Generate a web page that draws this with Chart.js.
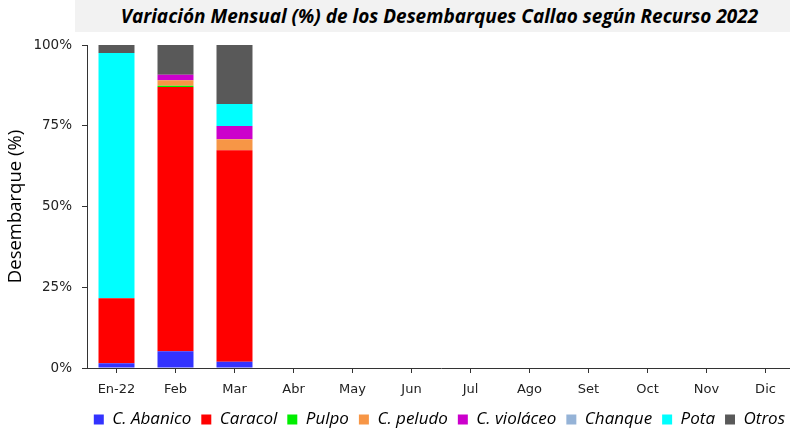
<!DOCTYPE html>
<html>
<head>
<meta charset="utf-8">
<script src="https://cdn.jsdelivr.net/npm/chart.js@4"></script>
<style>
  html, body { margin: 0; padding: 0; background: #fff; overflow: hidden; }
  #wrap { position: relative; width: 795px; height: 433px; }
  #title {
    position: absolute; left: 75px; top: 0; width: 715px; height: 32px;
    background: #f2f2f2; text-align: center; line-height: 33px; text-indent: 14px;
    font-family: "Open Sans", sans-serif; font-weight: bold; font-style: italic;
    font-size: 19px; color: #000; white-space: nowrap;
  }
  canvas { position: absolute; left: 0; top: 0; }
</style>
</head>
<body>
<div id="wrap">
  <canvas id="chart" width="795" height="433"></canvas>
  <div id="title">Variación Mensual (%) de los Desembarques Callao según Recurso 2022</div>
</div>
<script>
// categories
const months = ["En-22", "Feb", "Mar", "Abr", "May", "Jun", "Jul", "Ago", "Set", "Oct", "Nov", "Dic"];
const yTicks = [0, 25, 50, 75, 100];

// % share of each resource per month (only Jan-Mar reported)
const abanico  = [1.5, 5.2, 1.9, null, null, null, null, null, null, null, null, null];
const caracol  = [20.1, 81.8, 65.5, null, null, null, null, null, null, null, null, null];
const pulpo    = [0, 0.4, 0, null, null, null, null, null, null, null, null, null];
const peludo   = [0, 1.7, 3.4, null, null, null, null, null, null, null, null, null];
const violaceo = [0, 1.7, 4.1, null, null, null, null, null, null, null, null, null];
const chanque  = [0, 0, 0, null, null, null, null, null, null, null, null, null];
const pota     = [75.9, 0, 6.8, null, null, null, null, null, null, null, null, null];
const otros    = [2.5, 9.2, 18.3, null, null, null, null, null, null, null, null, null];

const series = [
  { label: "C. Abanico", data: abanico, color: "#3333ff" },
  { label: "Caracol", data: caracol, color: "#ff0000" },
  { label: "Pulpo", data: pulpo, color: "#00ee00" },
  { label: "C. peludo", data: peludo, color: "#f79646" },
  { label: "C. violáceo", data: violaceo, color: "#cc00cc" },
  { label: "Chanque", data: chanque, color: "#95b3d7" },
  { label: "Pota", data: pota, color: "#00ffff" },
  { label: "Otros", data: otros, color: "#595959" },
];

const axisColor = "#333";

new Chart(document.getElementById("chart"), {
  type: "bar",
  data: {
    labels: months,
    datasets: series.map((s) => ({
      label: s.label,
      data: s.data,
      backgroundColor: s.color,
      borderWidth: 0,
      barPercentage: 0.61,
      categoryPercentage: 1,
    })),
  },
  options: {
    responsive: false,
    animation: false,
    layout: { padding: { top: 45, left: 0, right: 0, bottom: -5 } },
    scales: {
      x: {
        stacked: true,
        offset: true,
        grid: {
          offset: false,
          drawOnChartArea: false,
          drawTicks: true,
          tickLength: 5,
          color: axisColor,
        },
        border: { color: axisColor, width: 1 },
        ticks: {
          color: "#222",
          padding: 9,
          maxRotation: 0,
          font: { family: "DejaVu Sans", size: 13 },
        },
        afterFit: (scale) => { scale.height = 33; },
      },
      y: {
        stacked: true,
        min: 0,
        max: 100,
        afterBuildTicks: (scale) => { scale.ticks = yTicks.map((v) => ({ value: v })); },
        grid: {
          drawOnChartArea: false,
          drawTicks: true,
          tickLength: 5,
          color: axisColor,
        },
        border: { color: axisColor, width: 1 },
        ticks: {
          color: "#222",
          padding: 10,
          callback: (v) => v + "%",
          font: { family: "DejaVu Sans", size: 13.5 },
        },
        title: {
          display: true,
          text: "Desembarque (%)",
          color: "#000",
          padding: { top: 5, bottom: 0 },
          font: { family: "Open Sans", size: 18.5 },
        },
        afterFit: (scale) => { scale.width = 87; },
      },
    },
    plugins: {
      legend: {
        position: "bottom",
        align: "end",
        labels: {
          boxWidth: 10,
          boxHeight: 10,
          padding: 10,
          color: "#000",
          font: { family: "Open Sans", size: 17, style: "italic" },
        },
      },
      tooltip: { enabled: false },
    },
  },
});
</script>
</body>
</html>
